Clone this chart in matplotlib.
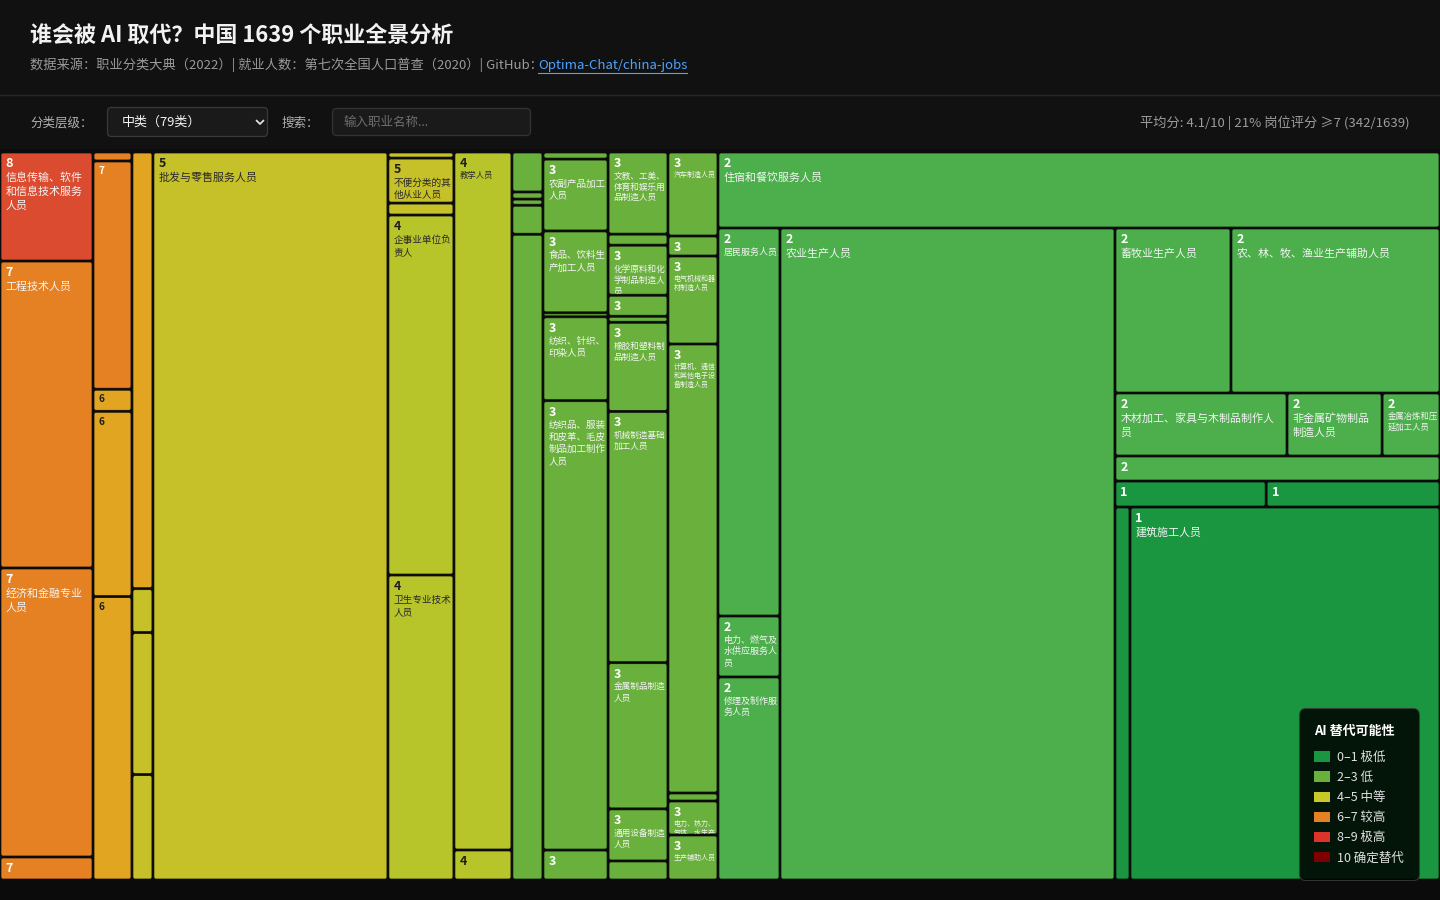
import matplotlib
matplotlib.use("Agg")
import matplotlib.pyplot as plt
from matplotlib.patches import FancyBboxPatch, Rectangle, Patch
from matplotlib.transforms import Bbox

plt.rcParams['font.family'] = ['Noto Sans CJK SC', 'DejaVu Sans']

PX = 0.72  # pixel -> point at dpi 100

# ---------------- data (layout order: sorted by AI score, d3 squarify) ----------------
occupations = [
    '信息传输、软件和信息技术服务人员', '工程技术人员', '经济和金融专业人员', '监察、法律、社会和宗教专业人员',
    '新闻出版、文化专业人员', '行政业务办理人员', '行政事务处理人员', '其他办事人员', '金融服务人员',
    '旅游及公共游览场所服务人员',
    '租赁和商务服务人员', '科学研究人员', '文学艺术、体育专业人员', '技术辅助服务人员',
    '批发与零售服务人员',
    '国家机关负责人', '不便分类的其他从业人员', '房地产服务人员', '企事业单位负责人', '卫生专业技术人员',
    '教学人员', '文化和教育服务人员',
    '中国共产党机关负责人',
    '烟草及其制品加工人员', '医药制造人员', '化学纤维制造人员', '纸及纸制品生产加工人员',
    '交通运输、仓储物流和邮政业服务人员',
    '民主党派和工商联负责人',
    '石油加工和炼焦、煤化工生产人员', '农副产品加工人员', '食品、饮料生产加工人员', '印刷和记录媒介复制人员',
    '纺织、针织、印染人员', '纺织品、服装和皮革、毛皮制品加工制作人员', '采矿人员',
    '农业技术人员',
    '文教、工美、体育和娱乐用品制造人员', '废弃资源综合利用人员', '化学原料和化学制品制造人员',
    '专用设备制造人员', '仪器仪表制造人员', '橡胶和塑料制品制造人员', '机械制造基础加工人员',
    '金属制品制造人员', '通用设备制造人员', '铁路、船舶、航空设备制造人员',
    '飞机和船舶技术人员',
    '汽车制造人员', '运输设备和通用工程机械操作人员及有关人员', '电气机械和器材制造人员',
    '计算机、通信和其他电子设备制造人员', '其他生产制造及有关人员', '电力、热力、气体、水生产和输配人员',
    '生产辅助人员',
    '住宿和餐饮服务人员',
    '基层群众自治组织负责人',
    '居民服务人员', '电力、燃气及水供应服务人员', '修理及制作服务人员',
    '农业生产人员',
    '畜牧业生产人员', '农、林、牧、渔业生产辅助人员',
    '军队人员',
    '木材加工、家具与木制品制作人员', '非金属矿物制品制造人员', '金属冶炼和压延加工人员',
    '人民团体和群众团体负责人',
    '健康、体育和休闲服务人员',
    '其他农、林、牧、渔业生产人员',
    '林业生产人员', '渔业生产人员',
    '其他社会生产和生活服务人员',
    '水利、环境和公共设施管理服务人员', '建筑施工人员',
]

ai_scores = [
    8, 7, 7, 7,
    7, 7, 6, 6, 6,
    6,
    6, 5, 5, 5,
    5,
    5, 5, 5, 4, 4,
    4, 4,
    3,
    3, 3, 3, 3,
    3,
    3,
    3, 3, 3, 3,
    3, 3, 3,
    3,
    3, 3, 3,
    3, 3, 3, 3,
    3, 3, 3,
    3,
    3, 3, 3,
    3, 3, 3,
    3,
    2,
    2,
    2, 2, 2,
    2,
    2, 2,
    2,
    2, 2, 2,
    2,
    2,
    1,
    1, 1,
    1,
    1, 1,
]

# employment (万人, estimated; categories with no census figure are 0)
employment = [
    101.4, 285.5, 268.8, 21.4,
    3.5, 88.9, 8.6, 72.2, 110.4,
    0,
    91.6, 9.2, 29.8, 22.1,
    1710.8,
    4.0, 29.7, 7.9, 237.6, 201.3,
    404.8, 17.4,
    0,
    12.4, 2.2, 1.9, 9.0,
    200.3,
    0,
    4.6, 46.8, 53.3, 2.6,
    54.6, 292.5, 19.5,
    0,
    49.2, 6.6, 30.0,
    12.6, 3.6, 53.4, 150.6,
    87.6, 31.2, 11.4,
    0,
    42.0, 10.0, 44.0,
    224.5, 4.0, 17.0,
    22.5,
    548.7,
    0,
    240.6, 37.8, 125.9,
    2184.2,
    191.4, 344.9,
    0,
    108.4, 59.9, 36.5,
    0,
    81.3,
    0,
    39.3, 45.2,
    0,
    56.0, 1156.3,
]

score_colors = {1: '#1A9641', 2: '#4CAF4C', 3: '#6AB03C', 4: '#B7C42A',
                5: '#C6C128', 6: '#E2A521', 7: '#E58023', 8: '#DB4B2F',
                9: '#D73027', 10: '#7F0000'}

legend_labels = ['0–1 极低', '2–3 低', '4–5 中等', '6–7 较高', '8–9 极高', '10 确定替代']
legend_colors = ['#1A9641', '#6AB03C', '#C8C828', '#E58023', '#DD3328', '#7F0000']

title = '谁会被 AI 取代？中国 1639 个职业全景分析'
subtitle = '数据来源：职业分类大典（2022）| 就业人数：第七次全国人口普查（2020）| GitHub：'
link_text = 'Optima-Chat/china-jobs'
stats_text = '平均分: 4.1/10 | 21% 岗位评分 ≥7 (342/1639)'


# ---------------- d3.treemapSquarify (golden ratio) ----------------
def squarify(values, x0, y0, x1, y1, ratio=(1 + 5 ** 0.5) / 2):
    rects = [(0, 0, 0, 0)] * len(values)
    n = len(values)
    value = float(sum(values))
    i0 = i1 = 0
    while i0 < n:
        dx, dy = x1 - x0, y1 - y0
        while True:
            sumv = values[i1]
            i1 += 1
            if sumv or i1 >= n:
                break
        minv = maxv = sumv
        alpha = max(dy / dx, dx / dy) / (value * ratio)
        beta = sumv * sumv * alpha
        minratio = max(maxv / beta, beta / minv) if sumv else 0
        while i1 < n:
            nv = values[i1]
            sumv += nv
            minv = min(minv, nv)
            maxv = max(maxv, nv)
            beta = sumv * sumv * alpha
            newratio = max(maxv / beta, beta / minv) if minv > 0 else float('inf')
            if newratio > minratio:
                sumv -= nv
                break
            minratio = newratio
            i1 += 1
        row = range(i0, i1)
        if dx < dy:
            ny = y0 + dy * sumv / value if value else y1
            cx = x0
            for i in row:
                w = (x1 - x0) * values[i] / sumv if sumv else 0
                rects[i] = (cx, y0, w, ny - y0)
                cx += w
            y0 = ny
        else:
            nx = x0 + dx * sumv / value if value else x1
            cy = y0
            for i in row:
                h = (y1 - y0) * values[i] / sumv if sumv else 0
                rects[i] = (x0, cy, nx - x0, h)
                cy += h
            x0 = nx
        value -= sumv
        i0 = i1
    return rects


# ---------------- figure ----------------
fig = plt.figure(figsize=(14.4, 9), dpi=100, facecolor='#111111')
hx = fig.add_axes([0, 0, 1, 1])
hx.set_xlim(0, 1440)
hx.set_ylim(900, 0)
hx.axis('off')

# treemap background
hx.add_patch(Rectangle((0, 149), 1440, 751, fc='#0b0b0b', ec='none'))
hx.plot([0, 1440], [94.5, 94.5], color='#262626', lw=1)

# title & subtitle
hx.text(30, 35, title, fontsize=22 * PX, fontweight='bold', color='#f2f2f2', va='center', ha='left')
sub = hx.text(30, 65, subtitle, fontsize=13.2 * PX, color='#9a9a9a', va='center', ha='left')
fig.canvas.draw()
r = fig.canvas.get_renderer()
bb = sub.get_window_extent(r)
lx = bb.x1 - 5
lk = hx.text(lx, 65, link_text, fontsize=13.2 * PX, color='#4DA3FF', va='center', ha='left')
lbb = lk.get_window_extent(r)
hx.plot([lx, lbb.x1], [72.5, 72.5], color='#4DA3FF', lw=0.8)

# controls
hx.text(30, 123, '分类层级：', fontsize=12.5 * PX, color='#b0b0b0', va='center', ha='left')
hx.add_patch(FancyBboxPatch((107.5, 107.5), 160, 29, boxstyle='round,pad=0,rounding_size=4',
                            fc='#1a1a1a', ec='#3a3a3a', lw=0.9))
hx.text(122, 122.5, '中类（79类）', fontsize=13 * PX, fontweight='medium', color='#f4f4f4',
        va='center', ha='left')
hx.plot([256.5, 260, 263.5], [120.5, 124, 120.5], color='#dddddd', lw=1.3, solid_capstyle='round')
hx.text(281, 123, '搜索：', fontsize=12.5 * PX, color='#b0b0b0', va='center', ha='left')
hx.add_patch(FancyBboxPatch((332.5, 108.5), 198, 27, boxstyle='round,pad=0,rounding_size=4',
                            fc='#1a1a1a', ec='#333333', lw=0.9))
hx.text(343, 122.5, '输入职业名称...', fontsize=12.5 * PX, color='#6f6f6f', va='center', ha='left')
hx.text(1410, 123, stats_text, fontsize=13.2 * PX, color='#9c9c9c', va='center', ha='right')

# ---------------- treemap ----------------
TW, TH = 1440, 728
tx = fig.add_axes([0, 20 / 900, 1, TH / 900])
tx.set_xlim(0, TW)
tx.set_ylim(TH, 0)
tx.axis('off')

rects = squarify(employment, 0, 0, TW, TH)


def clip_box(x, y, w, h):
    pts = tx.transData.transform([[x, y], [x + w, y + h]])
    return Bbox.from_extents(min(pts[:, 0]), min(pts[:, 1]), max(pts[:, 0]), max(pts[:, 1]))


for (x, y, w, h), name, sc, val in zip(rects, occupations, ai_scores, employment):
    if val <= 0 or w <= 0 or h <= 0:
        continue
    iw, ih = max(w - 2, 0.4), max(h - 2, 0.4)
    rs = max(0.0, min(2.0, iw / 2 - 0.05, ih / 2 - 0.05))
    tx.add_patch(FancyBboxPatch((x + 1, y + 1), iw, ih,
                                boxstyle=f'round,pad=0,rounding_size={rs}',
                                fc=score_colors[sc], ec='#0b0b0b', lw=0.5))
    cb = clip_box(x + 1, y + 1, iw, ih)
    dark = 4 <= sc <= 6
    tc = '#1e1e1e' if dark else '#ffffff'
    nc = '#2a2a2a' if dark else '#f4f4f4'
    if w >= 35 and h >= 19.8:
        sfs = min(12.5, w / 3.9)
        t = tx.text(x + 5.5, y + 6 + 0.73 * sfs, str(sc), fontsize=sfs * PX, fontweight='bold',
                    color=tc, va='baseline', ha='left', clip_on=True)
        t.set_clip_box(cb)
        t.set_clip_path(None)
    if w >= 45 and h >= 32:
        fs = min(11, (w - 8) / 6)
        nch = max(1, int((w - 8) / fs + 1e-6))
        lines = [name[i:i + nch] for i in range(0, len(name), nch)]
        for k, line in enumerate(lines):
            by = y + 18 + fs + k * 1.25 * fs
            if by - 0.85 * fs > y + h:
                break
            t = tx.text(x + 5.5, by, line, fontsize=fs * PX,
                        color=nc, va='baseline', ha='left', clip_on=True)
            t.set_clip_box(cb)
            t.set_clip_path(None)

# ---------------- legend ----------------
handles = [Patch(facecolor=c, edgecolor='none', label=l) for c, l in zip(legend_colors, legend_labels)]
leg = fig.legend(handles=handles, title='AI 替代可能性', loc='lower right',
                 bbox_to_anchor=(1419 / 1440, 20 / 900), bbox_transform=fig.transFigure,
                 frameon=True, fancybox=True, fontsize=12.5 * PX, title_fontsize=13 * PX,
                 handlelength=1.3, handleheight=0.95, handletextpad=0.5, labelspacing=0.565,
                 borderpad=1.25, borderaxespad=0, alignment='left', labelcolor='#e0e0e0',
                 facecolor='#000000', edgecolor='#3a3a3a', framealpha=0.86)
leg._legend_box.sep = 0.565 * 12.5 * PX + 6 * PX
leg.get_frame().set_boxstyle('round,pad=0,rounding_size=0.5')
leg.get_frame().set_linewidth(0.8)
leg.get_title().set_color('#ffffff')
leg.get_title().set_fontweight('bold')

fig.savefig('out.png', dpi=100, facecolor=fig.get_facecolor())
